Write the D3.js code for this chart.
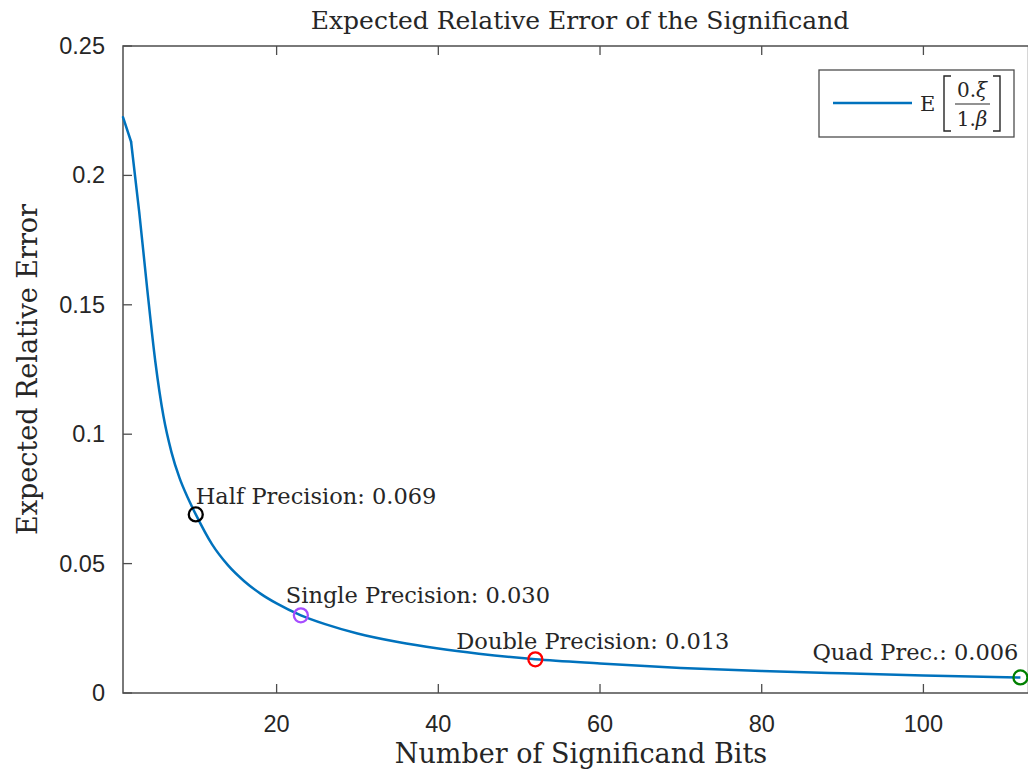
<!DOCTYPE html>
<html>
<head>
<meta charset="utf-8">
<script src="https://cdn.jsdelivr.net/npm/d3@7"></script>
<style>
  body { margin: 0; background: #fff; }
  svg { display: block; }
  .serif { font-family: "DejaVu Serif", "Liberation Serif", serif; fill: #262626; }
  .tick-label { font-family: "Liberation Sans", Arial, sans-serif; font-size: 23.5px; fill: #262626; }
</style>
</head>
<body>
<div id="chart"></div>
<script>
// significand bits and the expected relative error
const bits = [1, 2, 3, 4, 5, 6, 7, 8, 9, 10, 12, 14, 16, 18, 20, 23, 26, 30, 35, 40, 45, 52, 60, 70, 80, 90, 100, 112];
const errors = [0.2225, 0.213, 0.186, 0.156, 0.128, 0.107, 0.093, 0.083, 0.0755, 0.069, 0.0575, 0.0493, 0.0432, 0.0384, 0.0346,
  0.030, 0.0266, 0.0230, 0.0197, 0.0172, 0.0152, 0.013, 0.0114, 0.0097, 0.0085, 0.0076, 0.0068, 0.006];

// highlighted formats
const formatNames = ['Half Precision', 'Single Precision', 'Double Precision', 'Quad Prec.'];
const formatBits = [10, 23, 52, 112];
const formatErrors = [0.069, 0.030, 0.013, 0.006];
const formatColors = ['#000000', '#a64dff', '#ff0000', '#008000'];

const xTicks = [20, 40, 60, 80, 100];
const yTicks = [0, 0.05, 0.1, 0.15, 0.2, 0.25];

const width = 1028;
const height = 770;
const margin = { top: 46, bottom: 77, left: 123 };
// label placement relative to its marker: dx, dy, anchor
const labelOffsets = [[0, -10, 'start'], [-15, -12, 'start'], [-79, -10, 'start'], [-2, -17, 'end']];

const svg = d3.select('#chart')
  .append('svg')
  .attr('width', width)
  .attr('height', height);

const x = d3.scaleLinear()
  .domain([1, 113])
  .range([margin.left, margin.left + 112 * 8.085]);

const y = d3.scaleLinear()
  .domain([0, 0.25])
  .range([height - margin.bottom, margin.top]);

const axisColor = '#4d4d4d';

// frame
svg.append('rect')
  .attr('x', x(1))
  .attr('y', y(0.25))
  .attr('width', x(113) - x(1))
  .attr('height', y(0) - y(0.25))
  .attr('fill', 'none')
  .attr('stroke', axisColor)
  .attr('stroke-width', 1.5);

// ticks (inward)
const tickLen = 9;
svg.append('g')
  .selectAll('line')
  .data(xTicks)
  .join('line')
  .attr('x1', (d) => x(d))
  .attr('x2', (d) => x(d))
  .attr('y1', y(0))
  .attr('y2', y(0) - tickLen)
  .attr('stroke', axisColor)
  .attr('stroke-width', 1.3);

svg.append('g')
  .selectAll('line')
  .data(xTicks)
  .join('line')
  .attr('x1', (d) => x(d))
  .attr('x2', (d) => x(d))
  .attr('y1', y(0.25))
  .attr('y2', y(0.25) + tickLen)
  .attr('stroke', axisColor)
  .attr('stroke-width', 1.3);

svg.append('g')
  .selectAll('line')
  .data(yTicks)
  .join('line')
  .attr('x1', x(1))
  .attr('x2', x(1) + tickLen)
  .attr('y1', (d) => y(d))
  .attr('y2', (d) => y(d))
  .attr('stroke', axisColor)
  .attr('stroke-width', 1.3);

// tick labels
svg.append('g')
  .selectAll('text')
  .data(xTicks)
  .join('text')
  .attr('class', 'tick-label')
  .attr('x', (d) => x(d))
  .attr('y', y(0) + 39)
  .attr('text-anchor', 'middle')
  .text((d) => d);

svg.append('g')
  .selectAll('text')
  .data(yTicks)
  .join('text')
  .attr('class', 'tick-label')
  .attr('x', x(1) - 18)
  .attr('y', (d) => y(d) + 8)
  .attr('text-anchor', 'end')
  .text((d) => d);

// curve: straight first step, smooth afterwards
const points = bits.map((b, i) => [b, errors[i]]);
const line = d3.line()
  .x((d) => x(d[0]))
  .y((d) => y(d[1]));

svg.append('path')
  .datum(points.slice(0, 2))
  .attr('d', line)
  .attr('fill', 'none')
  .attr('stroke', '#0072bd')
  .attr('stroke-width', 2.5)
  .attr('stroke-linecap', 'round');

svg.append('path')
  .datum(points.slice(1))
  .attr('d', line.curve(d3.curveMonotoneX))
  .attr('fill', 'none')
  .attr('stroke', '#0072bd')
  .attr('stroke-width', 2.5)
  .attr('stroke-linejoin', 'round');

// markers + labels
formatBits.forEach((b, i) => {
  svg.append('circle')
    .attr('cx', x(b))
    .attr('cy', y(formatErrors[i]))
    .attr('r', 7)
    .attr('fill', 'none')
    .attr('stroke', formatColors[i])
    .attr('stroke-width', 2.3);

  svg.append('text')
    .attr('class', 'serif')
    .attr('x', x(b) + labelOffsets[i][0])
    .attr('y', y(formatErrors[i]) + labelOffsets[i][1])
    .attr('text-anchor', labelOffsets[i][2])
    .style('font-size', '22.5px')
    .text(`${formatNames[i]}: ${d3.format('.3f')(formatErrors[i])}`);
});

// title and axis labels
svg.append('text')
  .attr('class', 'serif')
  .attr('x', 580)
  .attr('y', 29)
  .attr('text-anchor', 'middle')
  .style('font-size', '25px')
  .text('Expected Relative Error of the Significand');

svg.append('text')
  .attr('class', 'serif')
  .attr('x', 581)
  .attr('y', 763)
  .attr('text-anchor', 'middle')
  .style('font-size', '27px')
  .text('Number of Significand Bits');

svg.append('text')
  .attr('class', 'serif')
  .attr('transform', `translate(37, ${(y(0) + y(0.25)) / 2}) rotate(-90)`)
  .attr('text-anchor', 'middle')
  .style('font-size', '27px')
  .text('Expected Relative Error');

// legend
const legend = svg.append('g').attr('transform', 'translate(819, 70)');
legend.append('rect')
  .attr('width', 195)
  .attr('height', 67)
  .attr('fill', '#fff')
  .attr('stroke', axisColor)
  .attr('stroke-width', 1.3);
legend.append('line')
  .attr('x1', 14).attr('x2', 93)
  .attr('y1', 33).attr('y2', 33)
  .attr('stroke', '#0072bd')
  .attr('stroke-width', 2.5);
legend.append('text')
  .attr('class', 'serif')
  .attr('x', 101).attr('y', 41)
  .style('font-size', '21px')
  .text('E');
// brackets
const bracket = (x0, dir) => `M${x0 + 7 * dir},6 H${x0} V61 H${x0 + 7 * dir}`;
legend.append('path').attr('d', bracket(125, 1))
  .attr('fill', 'none').attr('stroke', '#262626').attr('stroke-width', 1.4);
legend.append('path').attr('d', bracket(181, -1))
  .attr('fill', 'none').attr('stroke', '#262626').attr('stroke-width', 1.4);

const numer = legend.append('text')
  .attr('class', 'serif')
  .attr('x', 153).attr('y', 27)
  .attr('text-anchor', 'middle')
  .style('font-size', '20px');
numer.append('tspan').text('0.');
numer.append('tspan').style('font-style', 'italic').text('ξ');

legend.append('line')
  .attr('x1', 136).attr('x2', 171)
  .attr('y1', 34).attr('y2', 34)
  .attr('stroke', '#262626')
  .attr('stroke-width', 1.2);

const denom = legend.append('text')
  .attr('class', 'serif')
  .attr('x', 153).attr('y', 56)
  .attr('text-anchor', 'middle')
  .style('font-size', '20px');
denom.append('tspan').text('1.');
denom.append('tspan').style('font-style', 'italic').text('β');
</script>
</body>
</html>
